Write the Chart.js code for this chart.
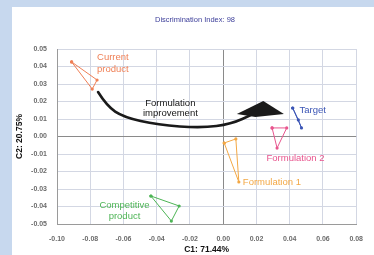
<!DOCTYPE html>
<html>
<head>
<meta charset="utf-8">
<script src="https://cdn.jsdelivr.net/npm/chart.js@4.4.1/dist/chart.umd.min.js"></script>
<style>
  html, body { margin: 0; padding: 0; background: #c7d8ee; }
  body { width: 374px; height: 255px; overflow: hidden; position: relative; }
  #wrap { position: absolute; left: 12px; top: 7px; width: 362px; height: 248px; background: #fff; }
</style>
</head>
<body>
<div id="wrap"><canvas id="pcaChart" width="362" height="248"></canvas></div>
<script>
// Sample coordinates (C1, C2) - three replicates per product
const currentProduct = [[-0.0912, 0.0426], [-0.0759, 0.0323], [-0.0788, 0.0271]];
const target = [[0.0418, 0.0163], [0.0452, 0.0095], [0.0471, 0.0049]];
const formulation2 = [[0.0294, 0.0049], [0.0382, 0.0049], [0.0324, -0.0066]];
const formulation1 = [[0.0006, -0.0037], [0.0076, -0.0014], [0.0094, -0.0260]];
const competitive = [[-0.0435, -0.0340], [-0.0265, -0.0397], [-0.0312, -0.0483]];

const xTicks = [-0.10, -0.08, -0.06, -0.04, -0.02, 0.00, 0.02, 0.04, 0.06, 0.08];
const yTicks = [-0.05, -0.04, -0.03, -0.02, -0.01, 0.00, 0.01, 0.02, 0.03, 0.04, 0.05];

const chartTitle = 'Discrimination Index: 98';
const xTitle = 'C1: 71.44%';
const yTitle = 'C2: 20.75%';

// Curved "formulation improvement" arrow, in data units
const arrowCurve = [[-0.0753, 0.0254], [-0.0700, 0.0174], [-0.0600, 0.0111], [-0.0394, 0.0066],
                    [-0.0129, 0.0049], [0.0047, 0.0071], [0.0182, 0.0129]];
const arrowHead = [[0.0082, 0.0129], [0.0241, 0.0203], [0.0365, 0.0129], [0.0194, 0.0111]];

// Text annotations: [text, x, y, align, color]
const annotations = [
    ['Current', -0.0759, 0.0454, 'left', '#ef7f55'],
    ['product', -0.0759, 0.0386, 'left', '#ef7f55'],
    ['Target', 0.0459, 0.0151, 'left', '#3b55b5'],
    ['Formulation 2', 0.0435, -0.0123, 'center', '#e8558e'],
    ['Formulation 1', 0.0118, -0.0260, 'left', '#f3a845'],
    ['Competitive', -0.0594, -0.0391, 'center', '#4db455'],
    ['product', -0.0594, -0.0454, 'center', '#4db455'],
    ['Formulation', -0.0318, 0.0191, 'center', '#151515'],
    ['improvement', -0.0318, 0.0134, 'center', '#151515']
];

function closed(pts) {
    return pts.concat([pts[0]]).map(p => ({ x: p[0], y: p[1] }));
}

function group(pts, color) {
    return {
        data: closed(pts),
        showLine: true,
        borderColor: color,
        backgroundColor: color,
        borderWidth: 1,
        pointRadius: 1.6,
        pointBorderWidth: 0
    };
}

const overlay = {
    id: 'overlay',
    afterDatasetsDraw(chart) {
        const ctx = chart.ctx;
        const xs = chart.scales.x, ys = chart.scales.y;
        const px = p => [xs.getPixelForValue(p[0]), ys.getPixelForValue(p[1])];
        ctx.save();

        // arrow body
        const c = arrowCurve.map(px);
        ctx.strokeStyle = '#1a1a1a';
        ctx.lineWidth = 2.6;
        ctx.lineCap = 'round';
        ctx.beginPath();
        ctx.moveTo(c[0][0], c[0][1]);
        for (let i = 1; i < c.length - 1; i++) {
            const mx = (c[i][0] + c[i + 1][0]) / 2, my = (c[i][1] + c[i + 1][1]) / 2;
            ctx.quadraticCurveTo(c[i][0], c[i][1], mx, my);
        }
        ctx.lineTo(c[c.length - 1][0], c[c.length - 1][1]);
        ctx.stroke();

        // arrow head
        const h = arrowHead.map(px);
        ctx.fillStyle = '#1a1a1a';
        ctx.beginPath();
        ctx.moveTo(h[0][0], h[0][1]);
        h.slice(1).forEach(p => ctx.lineTo(p[0], p[1]));
        ctx.closePath();
        ctx.fill();

        // labels
        ctx.font = '9.5px "Liberation Sans", Arial, sans-serif';
        ctx.textBaseline = 'middle';
        annotations.forEach(a => {
            const p = px([a[1], a[2]]);
            ctx.textAlign = a[3];
            ctx.fillStyle = a[4];
            ctx.fillText(a[0], p[0], p[1]);
        });

        // chart title
        ctx.font = '7.5px "Liberation Sans", Arial, sans-serif';
        ctx.fillStyle = '#3d3f9a';
        ctx.textAlign = 'center';
        ctx.fillText(chartTitle, 183, 13);
        ctx.restore();
    }
};

const tickFont = { family: '"Liberation Sans", Arial, sans-serif', size: 7, weight: 'bold' };
const titleFont = { family: '"Liberation Sans", Arial, sans-serif', size: 8.5, weight: 'bold' };

new Chart(document.getElementById('pcaChart').getContext('2d'), {
    type: 'scatter',
    data: {
        datasets: [
            group(currentProduct, '#ef7f55'),
            group(target, '#3b55b5'),
            group(formulation2, '#e8558e'),
            group(formulation1, '#f3a845'),
            group(competitive, '#4db455')
        ]
    },
    options: {
        responsive: false,
        animation: false,
        layout: { padding: { left: 0, right: 11, top: 42, bottom: 0 } },
        scales: {
            x: {
                type: 'linear',
                min: -0.10,
                max: 0.08,
                afterBuildTicks: s => { s.ticks = xTicks.map(v => ({ value: v })); },
                afterFit: s => { s.height = 31; },
                ticks: {
                    font: tickFont,
                    color: '#6b6b6b',
                    padding: 11,
                    maxRotation: 0,
                    callback: v => (Math.abs(v) < 1e-9 ? 0 : v).toFixed(2)
                },
                grid: {
                    drawTicks: false,
                    color: c => (c.tick && Math.abs(c.tick.value) < 1e-9) ? '#8a8a8a' : '#d3d7e3'
                },
                border: { color: '#9a9a9a' },
                title: { display: true, text: xTitle, font: titleFont, color: '#111', padding: { top: 0, bottom: 0 } }
            },
            y: {
                type: 'linear',
                min: -0.05,
                max: 0.05,
                afterBuildTicks: s => { s.ticks = yTicks.map(v => ({ value: v })); },
                afterFit: s => { s.width = 45; },
                ticks: {
                    font: tickFont,
                    color: '#6b6b6b',
                    padding: 10,
                    callback: v => (Math.abs(v) < 1e-9 ? 0 : v).toFixed(2)
                },
                grid: {
                    drawTicks: false,
                    color: c => (c.tick && Math.abs(c.tick.value) < 1e-9) ? '#8a8a8a' : '#d3d7e3'
                },
                border: { color: '#9a9a9a' },
                title: { display: true, text: yTitle, font: titleFont, color: '#111', padding: { top: 3, bottom: 0 } }
            }
        },
        plugins: {
            legend: { display: false },
            tooltip: { enabled: false }
        }
    },
    plugins: [overlay]
});
</script>
</body>
</html>
